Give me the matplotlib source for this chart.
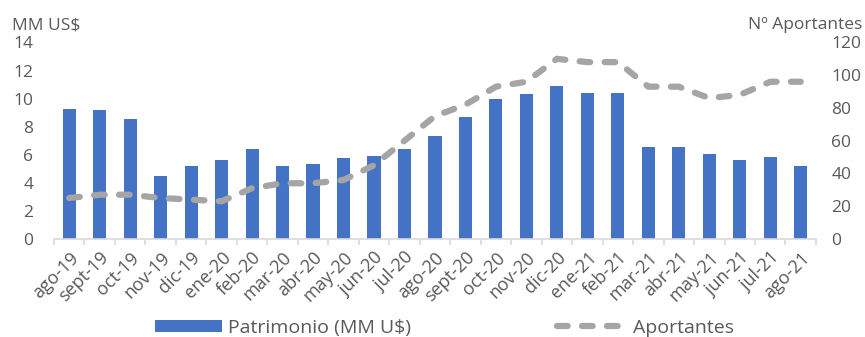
import matplotlib
matplotlib.use("Agg")
import matplotlib.pyplot as plt
import numpy as np

months = ["ago-19", "sept-19", "oct-19", "nov-19", "dic-19", "ene-20", "feb-20",
          "mar-20", "abr-20", "may-20", "jun-20", "jul-20", "ago-20", "sept-20",
          "oct-20", "nov-20", "dic-20", "ene-21", "feb-21", "mar-21", "abr-21",
          "may-21", "jun-21", "jul-21", "ago-21"]
patrimonio = [9.26, 9.17, 8.52, 4.45, 5.19, 5.65, 6.39, 5.19, 5.36, 5.74,
              5.93, 6.39, 7.30, 8.69, 9.98, 10.36, 10.91, 10.39, 10.39, 6.58,
              6.58, 6.03, 5.65, 5.84, 5.19]
aportantes = [25, 27, 27, 25, 24, 23, 31, 34, 34, 36, 45, 60, 75, 82, 93,
              96, 110, 108, 108, 93, 93, 86, 88, 96, 96]

BLUE = "#4472C4"
GREY = "#A5A5A5"
TXT = "#595959"
plt.rcParams["font.family"] = ["Open Sans", "DejaVu Sans"]
FS = 12.5

fig = plt.figure(figsize=(8.65, 3.37), dpi=100)
ax = fig.add_axes([0.0624, 0.291, 0.8809, 0.583])
ax2 = ax.twinx()

x = np.arange(len(months))
bars = ax.bar(x, patrimonio, width=0.43, color=BLUE, zorder=2,
              label="Patrimonio (MM U$)")
line, = ax2.plot(x, aportantes, color=GREY, lw=4.5, zorder=3,
                 label="Aportantes", dash_capstyle="round")
line.set_dashes((1.7, 2.3))

ax.set_xlim(-0.5, len(months) - 0.5)
ax.set_ylim(0, 14)
ax2.set_ylim(0, 120)
ax.set_yticks(range(0, 15, 2))
ax2.set_yticks(range(0, 121, 20))

for a in (ax, ax2):
    for s in a.spines.values():
        s.set_visible(False)
ax.spines["bottom"].set_visible(True)
ax.spines["bottom"].set_color("#D9D9D9")
ax.spines["bottom"].set_linewidth(1.2)

ax.set_xticks(x)
ax.set_xticklabels(months, rotation=45, ha="right", rotation_mode="anchor",
                   fontsize=13, color=TXT)
ax.set_xticks(np.arange(-0.5, len(months), 1), minor=True)
ax.tick_params(axis="x", which="major", length=0, pad=7)
ax.tick_params(axis="x", which="minor", length=4, color="#D9D9D9", width=1.2)
ax.tick_params(axis="y", length=0, pad=15, labelsize=FS, labelcolor=TXT)
ax2.tick_params(axis="y", length=0, pad=11, labelsize=FS, labelcolor=TXT)

fig.text(0.014, 0.925, "MM US$", fontsize=FS, color=TXT, va="center")
fig.text(0.997, 0.925, "Nº Aportantes", fontsize=FS, color=TXT,
         va="center", ha="right")

fig.legend([bars], ["Patrimonio (MM U$)"], loc="center left",
           bbox_to_anchor=(0.179, 0.027), frameon=False, fontsize=14,
           labelcolor=TXT, handlelength=3.45, handleheight=0.52,
           handletextpad=0.3, borderpad=0, borderaxespad=0)
fig.legend([line], ["Aportantes"], loc="center left",
           bbox_to_anchor=(0.644, 0.027), frameon=False, fontsize=14,
           labelcolor=TXT, handlelength=3.6, handletextpad=0.3,
           borderpad=0, borderaxespad=0)

fig.savefig("out.png", dpi=100)
